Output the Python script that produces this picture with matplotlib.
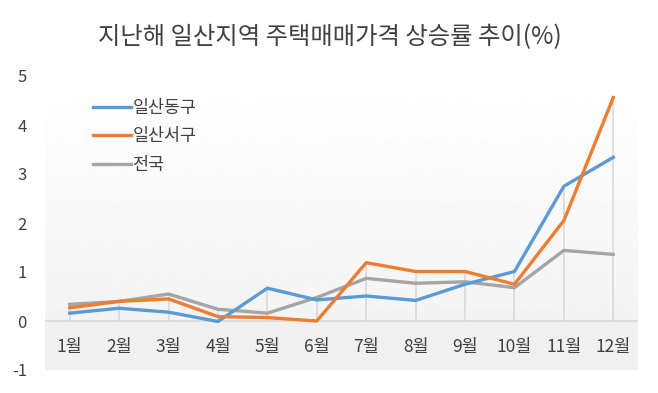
import numpy as np
import matplotlib.pyplot as plt

plt.rcParams['font.family'] = ['Noto Sans CJK KR', 'DejaVu Sans']

months = ['1월', '2월', '3월', '4월', '5월', '6월', '7월', '8월', '9월', '10월', '11월', '12월']
ilsan_dong = [0.16, 0.26, 0.18, -0.01, 0.67, 0.43, 0.51, 0.42, 0.75, 1.01, 2.75, 3.34]
ilsan_seo = [0.27, 0.40, 0.45, 0.09, 0.07, 0.00, 1.19, 1.01, 1.01, 0.75, 2.05, 4.56]
national = [0.34, 0.40, 0.55, 0.24, 0.16, 0.48, 0.87, 0.77, 0.80, 0.68, 1.44, 1.36]
yticks = [-1, 0, 1, 2, 3, 4, 5]

fig = plt.figure(figsize=(6.58, 3.93), dpi=100)
ax = fig.add_axes([45/658, 1 - 370/393, 593/658, 294/393])

x = np.arange(len(months))
ax.set_xlim(-0.5, 11.5)
ax.set_ylim(-1, 5)

# background: white-to-grey gradient above zero, flat grey band below
grad = np.linspace(1.0, 0.955, 256).reshape(-1, 1)
ax.imshow(grad, cmap='gray', vmin=0, vmax=1, aspect='auto',
          extent=[-0.5, 11.5, 0, 5], zorder=0)
ax.axhspan(-1, 0, color='#f0f0f0', lw=0, zorder=0)
ax.axhline(0, color='#d9d9d9', lw=1.2, zorder=1)

# drop lines
tops = np.maximum.reduce([ilsan_dong, ilsan_seo, national])
ax.vlines(x, 0, tops, color='#d9d9d9', lw=1.2, zorder=1)

ax.plot(x, ilsan_dong, color='#5b9bd5', lw=2.4, label='일산동구', zorder=3)
ax.plot(x, ilsan_seo, color='#ed7d31', lw=2.4, label='일산서구', zorder=3)
ax.plot(x, national, color='#a5a5a5', lw=2.4, label='전국', zorder=2)

for i, m in enumerate(months):
    ax.text(i, -0.53, m, ha='center', va='center', fontsize=12.5, color='#404040')

ax.set_xticks([])
ax.set_yticks(yticks)
ax.set_yticklabels([str(v) for v in yticks], fontsize=12, color='#404040')
ax.tick_params(axis='y', length=0, pad=13)
for s in ax.spines.values():
    s.set_visible(False)

ax.legend(loc='upper left', bbox_to_anchor=(0.054, 0.975), frameon=False,
          fontsize=12.5, handlelength=2.2, handletextpad=0.1, labelspacing=0.6,
          labelcolor='#404040')

fig.text(330/658, 1 - 37/393, '지난해 일산지역 주택매매가격 상승률 추이(%)',
         ha='center', va='center', fontsize=17.5, color='#404040')

fig.savefig('out.png', dpi=100)
